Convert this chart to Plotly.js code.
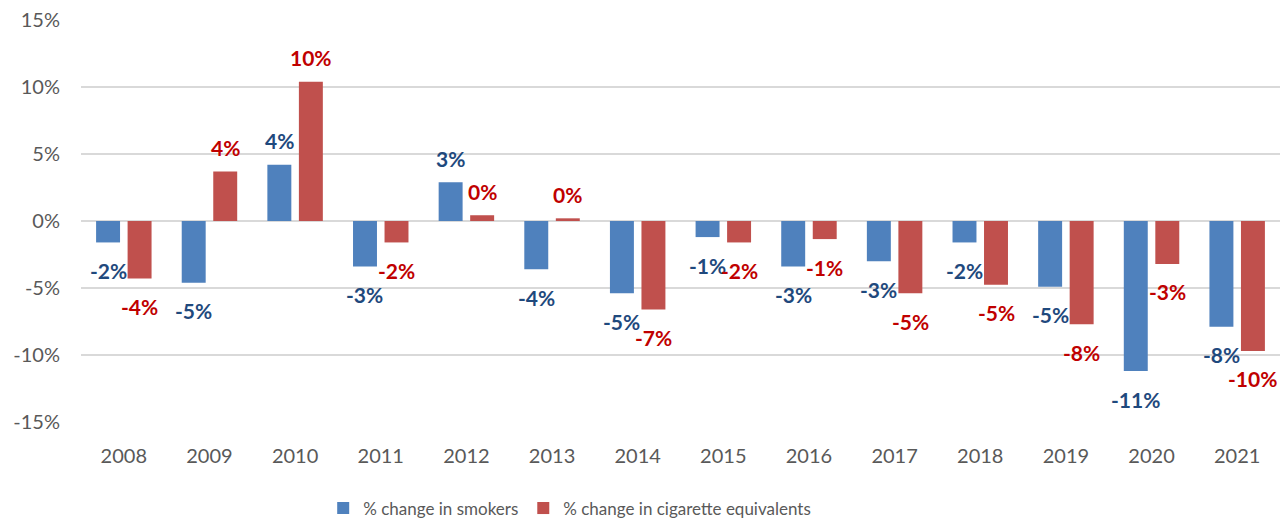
<!DOCTYPE html>
<html><head><meta charset="utf-8">
<script src="https://cdn.plot.ly/plotly-3.0.1.min.js"></script>
<style>body{margin:0;background:#fff}#c{width:1287px;height:521px}</style>
</head><body><div id="c"></div>
<script>
const years = ["2008","2009","2010","2011","2012","2013","2014","2015","2016","2017","2018","2019","2020","2021"];
const smokers = [-1.6,-4.6,4.2,-3.4,2.9,-3.6,-5.4,-1.2,-3.4,-3.0,-1.6,-4.9,-11.2,-7.9];
const cigEquiv = [-4.3,3.7,10.4,-1.6,0.43,0.2,-6.6,-1.6,-1.35,-5.4,-4.75,-7.7,-3.2,-9.7];
const seriesNames = ["% change in smokers","% change in cigarette equivalents"];
const barColors = ["#4F81BD","#C0504D"];
const labelColors = ["#1F497D","#C00000"];
const fontFam = "Lato, 'Open Sans', sans-serif";

const series = [smokers, cigEquiv];
const traces = series.map(function(vals,i){ return {
  type:'bar', x:years, y:vals, name:seriesNames[i],
  marker:{color:barColors[i]}
};});

const plotW = 1287-81-7;
const catW = plotW/years.length;
const bargap = 0.264;
const pitch = (1-bargap)/2*catW;
const annotations = [];
series.forEach(function(vals,i){
  vals.forEach(function(v,j){
    annotations.push({
      x:j, y:v, xref:'x', yref:'y',
      text: '<b>'+Math.round(v)+'%</b>', showarrow:false,
      xshift:(i===0?-1:1)*pitch/2,
      yshift: v>=0 ? 24 : -28,
      yanchor:'middle', xanchor:'center',
      font:{family:fontFam,size:21,color:labelColors[i]}
    });
  });
});

Plotly.newPlot('c', traces, {
  width:1287, height:521,
  margin:{l:81,r:7,t:20,b:99},
  paper_bgcolor:'#fff', plot_bgcolor:'#fff',
  barmode:'group', bargap:bargap, bargroupgap:0.24,
  font:{family:fontFam,size:18,color:'#595959'},
  xaxis:{type:'category', range:[-0.5, years.length-0.5], autorange:false, automargin:false, showgrid:false, zeroline:false, showline:false, ticks:'', ticklabelstandoff:20, tickfont:{size:20,color:'#595959'}},
  yaxis:{range:[-15,15], autorange:false, automargin:false, tickmode:'array', tickvals:[-15,-10,-5,0,5,10,15], ticktext:['-15%','-10%','-5%','0%','5%','10%','15%'], showgrid:true, gridcolor:'#D9D9D9', gridwidth:1.6, zeroline:false, showline:false, ticks:'', ticklabelstandoff:20, tickfont:{size:20,color:'#595959'}},
  showlegend:true,
  legend:{orientation:'h', yref:'container', xref:'paper', x:0.202, xanchor:'left', y:0.024, yanchor:'middle', font:{size:17,color:'#595959'}},
  annotations:annotations
}, {displayModeBar:false});
</script></body></html>
